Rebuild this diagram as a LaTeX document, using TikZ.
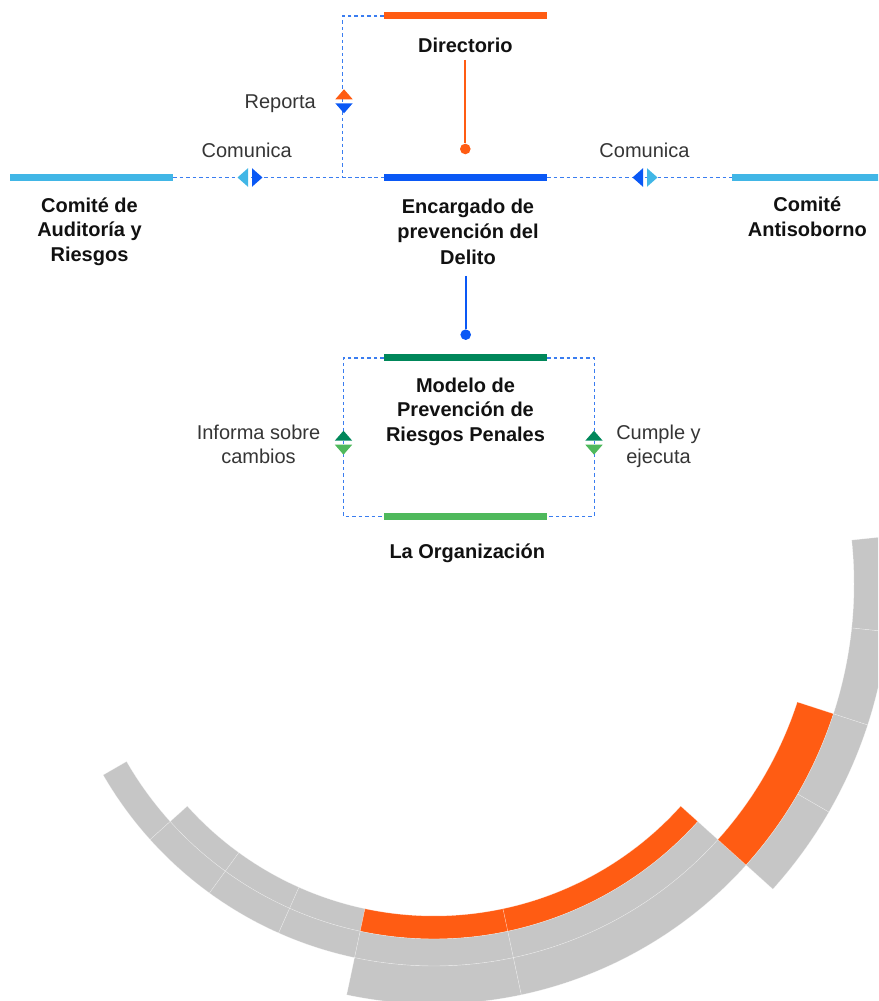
\documentclass[tikz,border=0pt]{standalone}
\usepackage{fontspec}
\setmainfont{Liberation Sans}
\usetikzlibrary{positioning,arrows.meta}
\definecolor{naranja}{HTML}{FF5C13}
\definecolor{azul}{HTML}{0A58F5}
\definecolor{celeste}{HTML}{41B6E6}
\definecolor{verde}{HTML}{00875A}
\definecolor{verdeclaro}{HTML}{4FB95C}
\definecolor{gris}{HTML}{C6C6C6}
\definecolor{punteado}{HTML}{3A7DF0}
\definecolor{texto}{HTML}{111111}

\begin{document}
\begin{tikzpicture}[x=1pt, y=1pt,
    font=\fontsize{20}{24.7}\selectfont, align=center,
    barra/.style={rectangle, inner sep=0pt, minimum width=163pt, minimum height=7pt},
    head/.style={font=\fontsize{20}{24.7}\selectfont\bfseries, text=texto, anchor=base, inner sep=0pt},
    txt/.style={text=texto!85, anchor=base, inner sep=0pt},
    dot/.style={circle, inner sep=0pt, minimum size=10.6pt},
    link/.style={draw=punteado, line width=1.1pt, dash pattern=on 3.5pt off 3pt},
    sector/.style={draw=white, draw opacity=0.45, line width=0.4pt},
    pics/vpair/.style 2 args={code={
        \fill [#1] (-8.7,2) -- (8.7,2) -- (0,12) -- cycle;
        \fill [#2] (-8.7,-2) -- (8.7,-2) -- (0,-12) -- cycle;}},
    pics/hpair/.style 2 args={code={
        \fill [#1] (-2,-9.3) -- (-2,9.3) -- (-12.5,0) -- cycle;
        \fill [#2] (2,-9.3) -- (2,9.3) -- (12.5,0) -- cycle;}}]
    \useasboundingbox (0,0) rectangle (878,1001);
    \clip (0,0) rectangle (878,1001);

    % barras
    \node [barra, fill=naranja] (dir) at (465.5,985) {};
    \node [barra, fill=azul] (enc) at (465.5,823.5) {};
    \node [barra, fill=celeste] (aud) at (91.5,823.5) {};
    \node [barra, fill=celeste] (anti) at (813.5,823.5) {};
    \node [barra, fill=verde] (mod) at (465.5,643) {};
    \node [barra, fill=verdeclaro] (org) at (465.5,484.3) {};

    % textos (base = ultima linea)
    \node [head] (dir_t) at (465.3,948.7) {Directorio};
    \node [head, font=\fontsize{20}{25.5}\selectfont\bfseries] (enc_t) at (468,736.7) {Encargado de\\prevención del\\Delito};
    \node [head] (aud_t) at (89.5,739.3) {Comité de\\Auditoría y\\Riesgos};
    \node [head] (anti_t) at (807.3,764.7) {Comité\\Antisoborno};
    \node [head] (mod_t) at (465.5,559.3) {Modelo de\\Prevención de\\Riesgos Penales};
    \node [head] (org_t) at (467.3,442.7) {La Organización};

    \node [txt, anchor=base east] (rep_t) at (316,892) {Reporta};
    \node [txt] (com_l) at (246.7,843.3) {Comunica};
    \node [txt] (com_r) at (644.5,843.3) {Comunica};
    \node [txt, font=\fontsize{20}{24}\selectfont] (inf_t) at (258.5,537) {Informa sobre\\cambios};
    \node [txt, font=\fontsize{20}{24}\selectfont] (cum_t) at (658.5,537) {Cumple y\\ejecuta};

    % lineas
    \node [dot, fill=naranja] (dot_dir) at (465.3,852) {};
    \node [dot, fill=azul] (dot_enc) at (465.7,666.3) {};
    \coordinate (top_dir) at (465.3,941);
    \coordinate (top_enc) at (465.7,725);
    \draw [naranja, line width=2pt] (top_dir) -- (dot_dir);
    \draw [azul, line width=2pt] (top_enc) -- (dot_enc);

    \path [link] (dir.west) -- ++(-41,0) |- (enc.west);
    \path [link] (aud.east) -- (enc.west);
    \path [link] (enc.east) -- (anti.west);
    \path [link] (mod.west) -- ++(-40.5,0) |- (org.west);
    \path [link] (mod.east) -- ++(47,0) |- (org.east);

    \pic at (344,899.7) {vpair={naranja}{azul}};
    \pic at (250,823.5) {hpair={celeste}{azul}};
    \pic at (645,823.5) {hpair={azul}{celeste}};
    \pic at (343.5,558.3) {vpair={verde}{verdeclaro}};
    \pic at (594,558.3) {vpair={verde}{verdeclaro}};

    % arcos
    \begin{scope}[shift={(434,417)}]
    \fill [gris, sector] (-138:332) arc [start angle=-138, end angle=-126, radius=332] -- (-126:355) arc [start angle=-126, end angle=-138, radius=355] -- cycle;
    \fill [gris, sector] (-126:332) arc [start angle=-126, end angle=-114, radius=332] -- (-114:355) arc [start angle=-114, end angle=-126, radius=355] -- cycle;
    \fill [gris, sector] (-114:332) arc [start angle=-114, end angle=-102, radius=332] -- (-102:355) arc [start angle=-102, end angle=-114, radius=355] -- cycle;
    \fill [naranja, sector] (-102:332) arc [start angle=-102, end angle=-78, radius=332] -- (-78:355) arc [start angle=-78, end angle=-102, radius=355] -- cycle;
    \fill [naranja, sector] (-78:332) arc [start angle=-78, end angle=-42, radius=332] -- (-42:355) arc [start angle=-42, end angle=-78, radius=355] -- cycle;

    \fill [gris, sector] (-150:355) arc [start angle=-150, end angle=-138, radius=355] -- (-138:382) arc [start angle=-138, end angle=-150, radius=382] -- cycle;
    \fill [gris, sector] (-138:355) arc [start angle=-138, end angle=-126, radius=355] -- (-126:382) arc [start angle=-126, end angle=-138, radius=382] -- cycle;
    \fill [gris, sector] (-126:355) arc [start angle=-126, end angle=-114, radius=355] -- (-114:382) arc [start angle=-114, end angle=-126, radius=382] -- cycle;
    \fill [gris, sector] (-114:355) arc [start angle=-114, end angle=-102, radius=355] -- (-102:382) arc [start angle=-102, end angle=-114, radius=382] -- cycle;
    \fill [gris, sector] (-102:355) arc [start angle=-102, end angle=-78, radius=355] -- (-78:382) arc [start angle=-78, end angle=-102, radius=382] -- cycle;
    \fill [gris, sector] (-78:355) arc [start angle=-78, end angle=-42, radius=355] -- (-42:382) arc [start angle=-42, end angle=-78, radius=382] -- cycle;

    \fill [gris, sector] (-102:382) arc [start angle=-102, end angle=-78, radius=382] -- (-78:420) arc [start angle=-78, end angle=-102, radius=420] -- cycle;
    \fill [gris, sector] (-78:382) arc [start angle=-78, end angle=-42, radius=382] -- (-42:420) arc [start angle=-42, end angle=-78, radius=420] -- cycle;
    \fill [naranja, sector] (-42:382) arc [start angle=-42, end angle=-18, radius=382] -- (-18:420) arc [start angle=-18, end angle=-42, radius=420] -- cycle;

    \fill [gris, sector] (-42:420) arc [start angle=-42, end angle=-30, radius=420] -- (-30:456) arc [start angle=-30, end angle=-42, radius=456] -- cycle;
    \fill [gris, sector] (-30:420) arc [start angle=-30, end angle=-18, radius=420] -- (-18:456) arc [start angle=-18, end angle=-30, radius=456] -- cycle;
    \fill [gris, sector] (-18:420) arc [start angle=-18, end angle=-6, radius=420] -- (-6:456) arc [start angle=-6, end angle=-18, radius=456] -- cycle;
    \fill [gris, sector] (-6:420) arc [start angle=-6, end angle=6, radius=420] -- (6:456) arc [start angle=6, end angle=-6, radius=456] -- cycle;
    \end{scope}

\end{tikzpicture}
\end{document}
